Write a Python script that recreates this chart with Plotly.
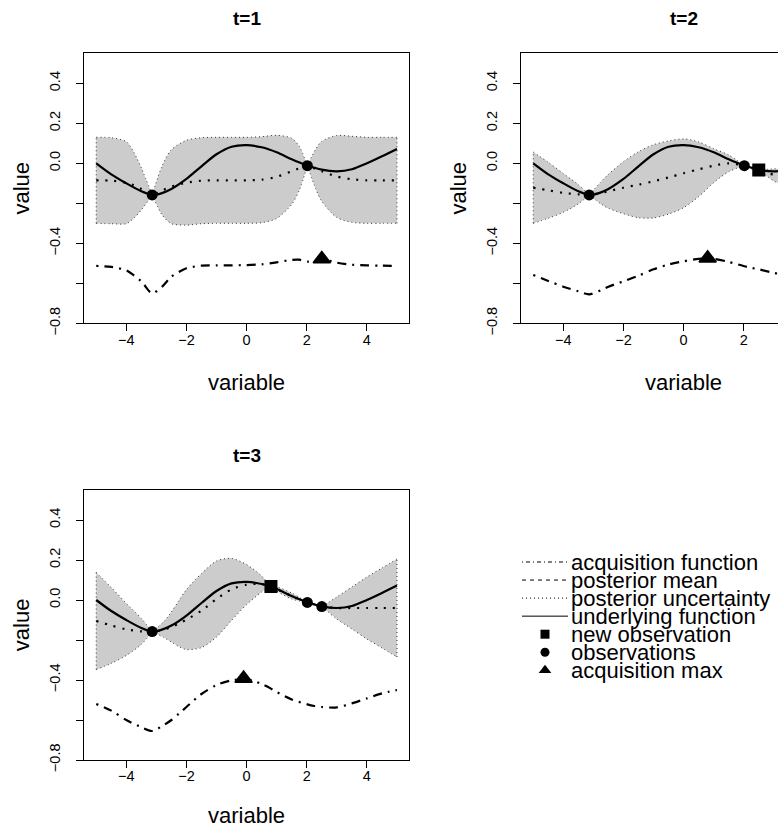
import plotly.graph_objects as go

# ---------------- data ----------------
# underlying (true) function, common to all panels
x_true = [-5, -4.5, -4, -3.5, -3.14, -3, -2.5, -2, -1.5, -1, -0.5, 0, 0.5, 1, 1.5, 2, 2.5, 3, 3.5, 4, 4.5, 5]
y_true = [0.0, -0.055, -0.10, -0.14, -0.158, -0.157, -0.128, -0.078, -0.015, 0.045, 0.083, 0.091, 0.080,
          0.055, 0.02, -0.01, -0.032, -0.04, -0.03, 0.0, 0.035, 0.072]

# t = 1
x_t1 = [-5, -4.5, -4, -3.75, -3.5, -3.14, -2.8, -2.5, -2, -1.5, -1, -0.5, 0, 0.5, 1, 1.5, 1.75, 2.02, 2.3, 2.5, 3, 3.5, 4, 4.5, 5]
mean_t1 = [-0.085, -0.087, -0.097, -0.11, -0.128, -0.158, -0.135, -0.117, -0.097, -0.087, -0.085, -0.085, -0.085,
           -0.082, -0.068, -0.04, -0.025, -0.012, -0.028, -0.04, -0.066, -0.08, -0.085, -0.085, -0.085]
sd_t1 = [0.215, 0.215, 0.205, 0.165, 0.105, 0.0, 0.125, 0.185, 0.212, 0.215, 0.215, 0.215, 0.215,
         0.215, 0.208, 0.165, 0.11, 0.0, 0.10, 0.15, 0.205, 0.215, 0.215, 0.215, 0.215]
acq_t1 = [-0.513, -0.518, -0.535, -0.56, -0.59, -0.65, -0.615, -0.567, -0.525, -0.512, -0.51, -0.51, -0.509,
          -0.505, -0.495, -0.483, -0.482, -0.492, -0.483, -0.478, -0.497, -0.507, -0.51, -0.512, -0.513]
obs_x_t1 = [-3.14, 2.02]
obs_y_t1 = [-0.158, -0.012]
new_x_t1 = []
new_y_t1 = []
max_x_t1 = [2.5]
max_y_t1 = [-0.478]

# t = 2
x_t2 = [-5, -4.5, -4, -3.5, -3.14, -2.75, -2.5, -2, -1.5, -1, -0.5, 0, 0.5, 1, 1.5, 2.02, 2.25, 2.5, 3, 3.25]
mean_t2 = [-0.122, -0.135, -0.148, -0.155, -0.158, -0.148, -0.14, -0.122, -0.107, -0.09, -0.071, -0.05,
           -0.03, -0.012, 0.0, -0.012, -0.022, -0.033, -0.058, -0.066]
sd_t2 = [0.178, 0.14, 0.097, 0.048, 0.0, 0.055, 0.085, 0.13, 0.165, 0.183, 0.183, 0.172,
         0.137, 0.085, 0.042, 0.0, 0.006, 0.0, 0.03, 0.04]
acq_t2 = [-0.558, -0.588, -0.617, -0.64, -0.655, -0.635, -0.617, -0.59, -0.562, -0.53, -0.506, -0.49,
          -0.478, -0.478, -0.493, -0.515, -0.523, -0.53, -0.548, -0.555]
obs_x_t2 = [-3.14, 2.02]
obs_y_t2 = [-0.158, -0.012]
new_x_t2 = [2.5]
new_y_t2 = [-0.033]
max_x_t2 = [0.8]
max_y_t2 = [-0.475]

# t = 3
x_t3 = [-5, -4.5, -4, -3.5, -3.14, -2.75, -2.5, -2.25, -2, -1.5, -1, -0.5, 0, 0.5, 0.81, 1, 1.5, 2.02, 2.25, 2.5, 3, 3.5, 4, 4.5, 5]
mean_t3 = [-0.105, -0.127, -0.147, -0.157, -0.158, -0.148, -0.135, -0.118, -0.098, -0.053, 0.005, 0.053, 0.077,
           0.08, 0.067, 0.055, 0.02, -0.012, -0.022, -0.033, -0.04, -0.04, -0.04, -0.04, -0.04]
sd_t3 = [0.243, 0.19, 0.13, 0.065, 0.0, 0.04, 0.075, 0.115, 0.15, 0.185, 0.19, 0.155, 0.10,
         0.04, 0.0, 0.01, 0.015, 0.0, 0.003, 0.0, 0.055, 0.105, 0.155, 0.2, 0.245]
acq_t3 = [-0.52, -0.553, -0.6, -0.636, -0.655, -0.625, -0.6, -0.568, -0.535, -0.47, -0.425, -0.402, -0.395,
          -0.42, -0.443, -0.46, -0.497, -0.522, -0.53, -0.535, -0.537, -0.517, -0.492, -0.467, -0.45]
obs_x_t3 = [-3.14, 2.02, 2.5]
obs_y_t3 = [-0.158, -0.012, -0.033]
new_x_t3 = [0.81]
new_y_t3 = [0.067]
max_x_t3 = [-0.1]
max_y_t3 = [-0.392]

titles = ["t=1", "t=2", "t=3"]
x_tickvals = [-4, -2, 0, 2, 4]
x_ticktext = ["\u22124", "\u22122", "0", "2", "4"]
y_tickvals = [-0.8, -0.6, -0.4, -0.2, 0.0, 0.2, 0.4]
y_ticktext = ["\u22120.8", "", "\u22120.4", "", "0.0", "0.2", "0.4"]
legend_labels = ["acquisition function", "posterior mean", "posterior uncertainty",
                 "underlying function", "new observation", "observations", "acquisition max"]

# ---------------- layout constants (pixels) ----------------
W, H = 778, 830
FONT = "Liberation Sans, Arial, Helvetica, sans-serif"
PXU = 30.07  # pixels per x unit
panels = [
    dict(l=84.2, r=409.0, t=53.3, b=323.3, xr=[-5.4, 5.4], xlab_y=383),
    dict(l=521.2, r=778.0, t=53.3, b=323.3, xr=[-5.4, -5.4 + (778.0 - 521.2) / PXU], xlab_y=383),
    dict(l=84.2, r=409.0, t=490.0, b=760.0, xr=[-5.4, 5.4], xlab_y=815),
]
YR = [-0.8, 0.55]

datasets = [
    (x_t1, mean_t1, sd_t1, acq_t1, obs_x_t1, obs_y_t1, new_x_t1, new_y_t1, max_x_t1, max_y_t1),
    (x_t2, mean_t2, sd_t2, acq_t2, obs_x_t2, obs_y_t2, new_x_t2, new_y_t2, max_x_t2, max_y_t2),
    (x_t3, mean_t3, sd_t3, acq_t3, obs_x_t3, obs_y_t3, new_x_t3, new_y_t3, max_x_t3, max_y_t3),
]

fig = go.Figure()
BAND_FILL = "#cccccc"
BORDER = dict(color="#333333", width=1, dash="1px,3px")

for k, (xs, mu, sd, acq, ox, oy, nx, ny, mx, my) in enumerate(datasets):
    ax = "" if k == 0 else str(k + 1)
    xa, ya = "x" + ax, "y" + ax
    upper = [m + s for m, s in zip(mu, sd)]
    lower = [m - s for m, s in zip(mu, sd)]
    cuts = [0] + [i for i, s in enumerate(sd) if s == 0 and 0 < i < len(xs) - 1] + [len(xs) - 1]
    segs = list(zip(cuts[:-1], cuts[1:]))
    # filled band, split at the pinch points
    for a, b in segs:
        fig.add_trace(go.Scatter(x=xs[a:b + 1], y=lower[a:b + 1], mode="lines",
                                 line=dict(width=0, shape="spline", smoothing=0.8),
                                 xaxis=xa, yaxis=ya, showlegend=False, hoverinfo="skip"))
        fig.add_trace(go.Scatter(x=xs[a:b + 1], y=upper[a:b + 1], mode="lines", fill="tonexty",
                                 fillcolor=BAND_FILL, line=dict(width=0, shape="spline", smoothing=0.8),
                                 xaxis=xa, yaxis=ya, showlegend=False, hoverinfo="skip"))
    # dotted band border
    for a, b in segs:
        for arr in (upper, lower):
            fig.add_trace(go.Scatter(x=xs[a:b + 1], y=arr[a:b + 1], mode="lines",
                                     line=dict(BORDER, shape="spline", smoothing=0.8),
                                     xaxis=xa, yaxis=ya, showlegend=False, hoverinfo="skip"))
    for i in (0, len(xs) - 1):
        fig.add_trace(go.Scatter(x=[xs[i], xs[i]], y=[lower[i], upper[i]], mode="lines", line=BORDER,
                                 xaxis=xa, yaxis=ya, showlegend=False, hoverinfo="skip"))
    # underlying function
    fig.add_trace(go.Scatter(x=x_true, y=y_true, mode="lines",
                             line=dict(color="black", width=2.2, shape="spline", smoothing=0.8),
                             xaxis=xa, yaxis=ya, showlegend=False))
    # posterior mean
    fig.add_trace(go.Scatter(x=xs, y=mu, mode="lines",
                             line=dict(color="black", width=2.2, dash="2px,7px", shape="spline", smoothing=0.8),
                             xaxis=xa, yaxis=ya, showlegend=False))
    # acquisition function
    fig.add_trace(go.Scatter(x=xs, y=acq, mode="lines",
                             line=dict(color="black", width=2.2, dash="2px,6px,9px,6px", shape="spline", smoothing=0.8),
                             xaxis=xa, yaxis=ya, showlegend=False))
    # points
    fig.add_trace(go.Scatter(x=ox, y=oy, mode="markers", marker=dict(symbol="circle", size=11, color="black"),
                             xaxis=xa, yaxis=ya, showlegend=False))
    if nx:
        fig.add_trace(go.Scatter(x=nx, y=ny, mode="markers", marker=dict(symbol="square", size=13, color="black"),
                                 xaxis=xa, yaxis=ya, showlegend=False))
    fig.add_trace(go.Scatter(x=mx, y=my, mode="markers",
                             marker=dict(symbol="triangle-up", size=15, color="black",
                                         line=dict(color="black", width=1.5)),
                             xaxis=xa, yaxis=ya, showlegend=False))

# ---------------- legend (drawn on a hidden pixel overlay axis) ----------------
LEG_X0, LEG_X1, LEG_MX, LEG_TX = 522, 568, 545, 569
LEG_Y0, LEG_DY = 562, 18.05
line_dashes = ["1px,3px,4px,3px", "4px,4px", "1px,3px", "solid"]
for i, d in enumerate(line_dashes):
    yy = LEG_Y0 + i * LEG_DY
    fig.add_trace(go.Scatter(x=[LEG_X0, LEG_X1], y=[yy, yy], mode="lines",
                             line=dict(color="black", width=1, dash=d),
                             xaxis="x4", yaxis="y4", showlegend=False, hoverinfo="skip"))
for i, (sym, sz) in enumerate([("square", 9), ("circle", 9), ("triangle-up", 11)]):
    yy = LEG_Y0 + (4 + i) * LEG_DY
    fig.add_trace(go.Scatter(x=[LEG_MX], y=[yy], mode="markers",
                             marker=dict(symbol=sym, size=sz, color="black"),
                             xaxis="x4", yaxis="y4", showlegend=False, hoverinfo="skip", cliponaxis=False))

annotations = []
for i, lab in enumerate(legend_labels):
    yy = LEG_Y0 + i * LEG_DY
    annotations.append(dict(text=lab, x=LEG_TX / W, y=1 - yy / H, xref="paper", yref="paper",
                            xanchor="left", yanchor="middle", showarrow=False,
                            font=dict(family=FONT, size=22, color="black")))

# ---------------- axes ----------------
layout = dict(width=W, height=H, margin=dict(l=0, r=0, t=0, b=0),
              paper_bgcolor="white", plot_bgcolor="rgba(0,0,0,0)", showlegend=False,
              font=dict(family=FONT, color="black"))

for k, p in enumerate(panels):
    ax = "" if k == 0 else str(k + 1)
    layout["xaxis" + ax] = dict(
        domain=[p["l"] / W, min(p["r"] / W, 1.0)], range=p["xr"], anchor="y" + ax,
        showgrid=False, zeroline=False, showline=True, linecolor="black", linewidth=1,
        mirror=True, ticks="outside", ticklen=7, tickwidth=1, tickcolor="black",
        tickvals=x_tickvals, ticktext=x_ticktext, ticklabelstandoff=-4,
        tickfont=dict(family=FONT, size=14.5, color="black"), automargin=False, fixedrange=True)
    layout["yaxis" + ax] = dict(
        domain=[1 - p["b"] / H, 1 - p["t"] / H], range=YR, anchor="x" + ax,
        showgrid=False, zeroline=False, showline=True, linecolor="black", linewidth=1,
        mirror=(k != 1), ticks="outside", ticklen=7, tickwidth=1, tickcolor="black",
        tickvals=y_tickvals, ticktext=y_ticktext, tickangle=-90, ticklabelstandoff=10,
        tickfont=dict(family=FONT, size=14.5, color="black"), automargin=False, fixedrange=True)
    cx = (p["l"] + (p["l"] + 10.8 * PXU)) / 2
    cy = (p["t"] + p["b"]) / 2
    annotations.append(dict(text="<b>" + titles[k] + "</b>", x=cx / W, y=1 - (p["t"] - 34.5) / H,
                            xref="paper", yref="paper", xanchor="center", yanchor="middle",
                            showarrow=False, font=dict(family=FONT, size=19, color="black")))
    annotations.append(dict(text="variable", x=cx / W, y=1 - p["xlab_y"] / H,
                            xref="paper", yref="paper", xanchor="center", yanchor="middle",
                            showarrow=False, font=dict(family=FONT, size=22, color="black")))
    annotations.append(dict(text="value", x=(p["l"] - 63) / W, y=1 - cy / H, textangle=-90,
                            xref="paper", yref="paper", xanchor="center", yanchor="middle",
                            showarrow=False, font=dict(family=FONT, size=22, color="black")))

layout["xaxis4"] = dict(domain=[0, 1], range=[0, W], visible=False, fixedrange=True, anchor="y4")
layout["yaxis4"] = dict(domain=[0, 1], range=[H, 0], visible=False, fixedrange=True, anchor="x4")
layout["annotations"] = annotations
fig.update_layout(**layout)

fig.write_html("out.html")
